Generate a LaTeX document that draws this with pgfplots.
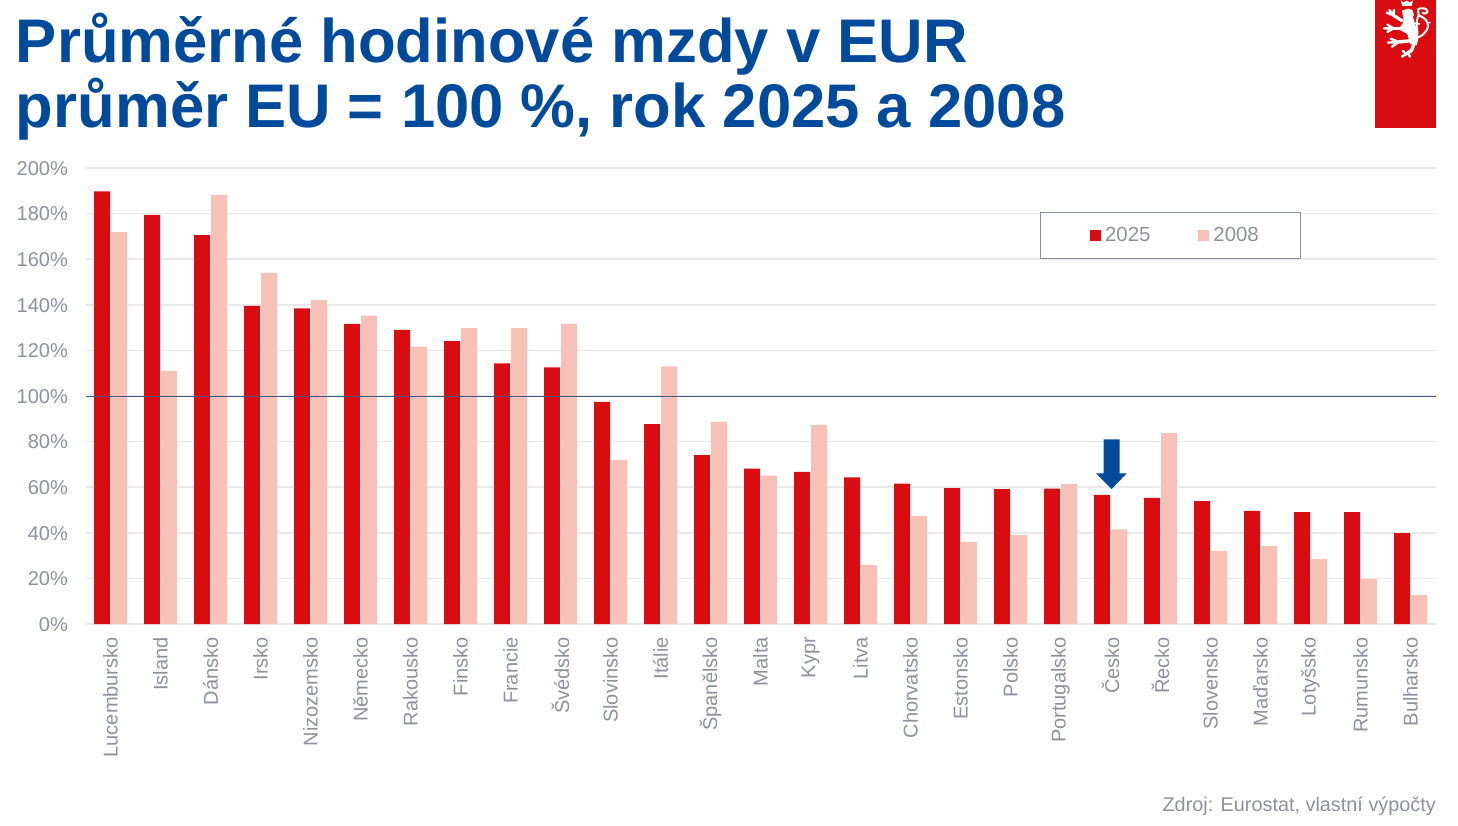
\documentclass[border=0pt]{standalone}
\usepackage{pgfplots}
\pgfplotsset{compat=1.18}
\usepackage{pgfplotstable}
\usepackage{fontspec}
\setmainfont{Liberation Sans}
\definecolor{cred}{HTML}{D90D11}
\definecolor{cpink}{HTML}{F8C1B8}
\definecolor{cblue}{HTML}{004A9C}
\definecolor{cgrey}{HTML}{8D919E}
\definecolor{cgrid}{HTML}{E9E9EB}
\definecolor{cline}{HTML}{41567F}
\pgfplotstableread{
idx y2025 y2008
0 189.7 171.9
1 179.4 111.0
2 170.6 188.2
3 139.5 154.0
4 138.4 142.0
5 131.6 135.3
6 129.0 121.5
7 124.1 129.8
8 114.3 129.8
9 112.5 131.6
10 97.4 71.9
11 87.7 113.0
12 74.1 88.6
13 68.2 65.1
14 66.7 87.3
15 64.3 25.9
16 61.6 47.4
17 59.6 36.0
18 59.2 39.0
19 59.4 61.4
20 56.6 41.5
21 55.3 83.8
22 53.9 32.0
23 49.6 34.2
24 49.1 28.5
25 49.1 19.7
26 39.9 12.7
}\wagedata
\begin{document}
\begin{tikzpicture}[x=1pt,y=1pt]
\path[use as bounding box] (0,0) rectangle (1458,825);
\node[anchor=base west,inner sep=0pt,text=cblue,font=\fontsize{61.6}{61.6}\selectfont\bfseries] at (15.8,762) {Průměrné hodinové mzdy v EUR};
\node[anchor=base west,inner sep=0pt,text=cblue,font=\fontsize{61.6}{61.6}\selectfont\bfseries] at (15.8,697) {průměr EU = 100 \%, rok 2025 a 2008};
\fill[cred] (1375,697) rectangle (1436,825);
\begin{scope}[shift={(1378,825)},x=0.3333pt,y=-0.3333pt,white,line cap=round,line join=round]
\fill (68,1) -- (76,7) -- (86,2) -- (96,7) -- (105,1) -- (101,18) -- (73,18) -- cycle;
\fill (72,32) -- (90,26) -- (103,30) -- (108,44) -- (100,56) -- (76,52) -- cycle;
\fill (76,50) -- (104,48) -- (112,75) -- (122,112) -- (116,136) -- (96,132) -- (88,102) -- (62,88) -- (76,66) -- cycle;
\draw[line width=3.2pt] (72,62) -- (46,46);
\draw[line width=2.4pt] (46,46) -- (26,38) (46,46) -- (34,30) (46,46) -- (48,30);
\draw[line width=3.2pt] (78,85) -- (46,85);
\draw[line width=2.4pt] (46,85) -- (18,85) (46,85) -- (28,74) (46,85) -- (28,96);
\draw[line width=3.4pt] (100,122) -- (62,126);
\draw[line width=2.4pt] (62,126) -- (30,128) (62,126) -- (38,116) (62,126) -- (42,140);
\draw[line width=3.4pt] (108,132) -- (100,152) -- (84,162);
\draw[line width=2.4pt] (84,162) -- (72,170) (84,162) -- (74,152) (90,160) -- (96,170);
\draw[line width=2pt] (116,112) .. controls (124,94) and (108,72) .. (122,46) .. controls (126,38) and (116,34) .. (120,28) .. controls (128,22) and (146,24) .. (148,32) .. controls (150,40) and (138,44) .. (134,38);
\draw[line width=2pt] (122,46) .. controls (145,55) and (158,72) .. (145,92) .. controls (135,106) and (125,112) .. (116,112);
\draw[line width=1.6pt] (148,68) -- (156,68) (124,72) -- (112,70);
\end{scope}
\begin{axis}[
  at={(86pt,201pt)},anchor=south west,
  width=1350pt,height=456pt,scale only axis,
  xmin=-0.49,xmax=26.51,ymin=0,ymax=200,
  ybar=1pt,bar width=16pt,
  axis line style={draw=none},
  major tick length=0pt,
  ymajorgrids,
  grid style={cgrid,line width=1.5pt},
  ytick={0,20,...,200},
  yticklabels={0\%,20\%,40\%,60\%,80\%,100\%,120\%,140\%,160\%,180\%,200\%},
  xtick={0,...,26},
  xticklabels={Lucembursko,Island,Dánsko,Irsko,Nizozemsko,Německo,Rakousko,Finsko,Francie,Švédsko,Slovinsko,Itálie,Španělsko,Malta,Kypr,Litva,Chorvatsko,Estonsko,Polsko,Portugalsko,Česko,Řecko,Slovensko,Maďarsko,Lotyšsko,Rumunsko,Bulharsko},
  yticklabel style={font=\fontsize{20}{20}\selectfont,text=cgrey,inner sep=0pt,anchor=east,xshift=-18pt,yshift=-0.5pt},
  xticklabel style={font=\fontsize{20}{20}\selectfont,text=cgrey,inner sep=0pt,rotate=90,anchor=east,xshift=-13pt},
  legend columns=2,
  legend cell align=left,
  legend style={at={(0.8033,0.852)},anchor=center,draw=cgrey,line width=1pt,fill=white,
    font=\fontsize{20.4}{20.4}\selectfont,text=cgrey,
    inner xsep=39.5pt,inner ysep=13pt,
    /tikz/every even column/.style={column sep=36pt}},
  legend image code/.code={\path[fill=none,draw=none] (-10pt,0pt) -- (13pt,0pt);\fill[#1] (0pt,-5.5pt) rectangle (11pt,5.5pt);},
  clip=false,
]
\addplot[fill=cred,draw=none] table[x=idx,y=y2025] {\wagedata};
\addlegendentry{2025}
\addplot[fill=cpink,draw=none] table[x=idx,y=y2008] {\wagedata};
\addlegendentry{2008}
\draw[cline,line width=0.9pt] (axis cs:-0.49,100) -- (axis cs:26.51,100);
\fill[cblue] (axis cs:19.864,81) -- (axis cs:20.184,81) -- (axis cs:20.184,66.1) -- (axis cs:20.324,66.1) -- (axis cs:20.022,59.2) -- (axis cs:19.71,66.1) -- (axis cs:19.864,66.1) -- cycle;
\end{axis}
\node[anchor=base east,inner sep=0pt,text=cgrey,font=\fontsize{19.85}{20}\selectfont] at (1436,14) {Zdroj: Eurostat, vlastní výpočty};
\end{tikzpicture}
\end{document}
